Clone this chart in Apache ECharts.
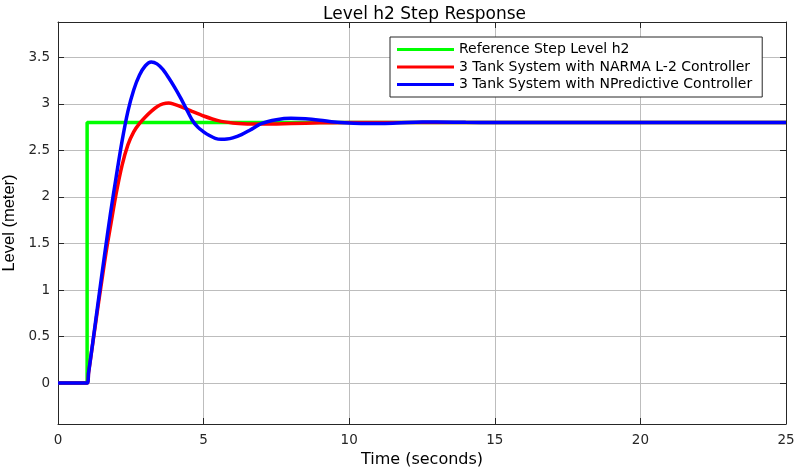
<!DOCTYPE html>
<html>
<head>
<meta charset="utf-8">
<script src="https://cdn.jsdelivr.net/npm/echarts@6/dist/echarts.min.js"></script>
<style>html,body{margin:0;padding:0;background:#fff;}#c{width:795px;height:470px;}</style>
</head>
<body>
<div id="c"></div>
<script>
const titleText = 'Level h2 Step Response';
const xName = 'Time (seconds)';
const yName = 'Level (meter)';
const seriesNames = ['Reference Step Level h2', '3 Tank System with NARMA L-2 Controller', '3 Tank System with NPredictive Controller'];
const xTicks = [0, 5, 10, 15, 20, 25];
const yTicks = [0, 0.5, 1, 1.5, 2, 2.5, 3, 3.5];

const refT = [0, 1, 1, 25];
const refV = [0, 0, 2.8, 2.8];

const narmaT = [0, 1, 1.05, 1.2, 1.4, 1.6, 1.7, 1.8, 2.0, 2.2, 2.4, 2.6, 2.8, 3.0, 3.2, 3.4, 3.6, 3.8, 4.0, 4.3, 4.6, 5.0, 5.5, 6.0, 6.5, 7.0, 7.5, 8, 9, 10, 12, 15, 20, 25];
const narmaV = [0, 0, 0.11, 0.44, 0.88, 1.3, 1.5, 1.68, 2.04, 2.34, 2.56, 2.7, 2.79, 2.86, 2.92, 2.97, 3.0, 3.01, 2.995, 2.96, 2.92, 2.87, 2.82, 2.795, 2.785, 2.783, 2.785, 2.79, 2.796, 2.8, 2.8, 2.8, 2.8, 2.8];

const npredT = [0, 1, 1.05, 1.2, 1.4, 1.6, 1.8, 2.0, 2.2, 2.4, 2.6, 2.8, 3.0, 3.2, 3.4, 3.6, 3.8, 4.0, 4.2, 4.4, 4.6, 4.8, 5.0, 5.2, 5.4, 5.6, 5.8, 6.0, 6.3, 6.6, 7.0, 7.5, 8.0, 8.5, 9.0, 9.5, 10, 10.5, 11, 11.5, 12, 12.5, 13, 14, 15, 20, 25];
const npredV = [0, 0, 0.11, 0.45, 0.92, 1.38, 1.82, 2.22, 2.6, 2.92, 3.15, 3.31, 3.41, 3.45, 3.43, 3.37, 3.28, 3.18, 3.07, 2.95, 2.83, 2.75, 2.70, 2.66, 2.63, 2.62, 2.622, 2.635, 2.67, 2.72, 2.79, 2.83, 2.845, 2.84, 2.825, 2.805, 2.795, 2.79, 2.79, 2.793, 2.8, 2.805, 2.806, 2.802, 2.8, 2.8, 2.8];

const colors = ['#00ff00', '#ff0000', '#0000ff'];
const pair = (t, v) => t.map((x, i) => [x, v[i]]);
const dark = '#262626';
const gridColor = '#bdbdbd';
const tickFont = 'DejaVu Sans';

const chart = echarts.init(document.getElementById('c'), null, {renderer: 'canvas'});
const xBase = {
  type: 'value', min: 0, max: 25, interval: 5,
  axisLine: {show: true, onZero: false, lineStyle: {color: dark, width: 1}},
  axisTick: {show: true, inside: true, length: 6, lineStyle: {color: dark}},
};
const yBase = {
  type: 'value', min: -0.44, max: 3.88,
  axisLine: {show: true, onZero: false, lineStyle: {color: dark, width: 1}},
  axisTick: {show: true, inside: true, length: 6, customValues: yTicks, lineStyle: {color: dark}},
};
chart.setOption({
  animation: false,
  backgroundColor: '#ffffff',
  title: {
    text: titleText, left: 318, top: 1,
    textStyle: {fontFamily: tickFont, fontSize: 17, fontWeight: 'normal', color: '#000'}
  },
  grid: {left: 58, right: 9, top: 22, bottom: 46, show: false, containLabel: false, outerBoundsMode: 'none'},
  legend: {
    orient: 'vertical', left: 390, top: 37,
    padding: [4, 10, 4, 7], itemGap: 0.5,
    itemWidth: 57, itemHeight: 3, icon: 'rect',
    borderColor: dark, borderWidth: 1, backgroundColor: '#fff',
    textStyle: {fontFamily: tickFont, fontSize: 14, lineHeight: 17, color: '#000'},
    data: seriesNames
  },
  xAxis: [
    Object.assign({}, xBase, {
      position: 'bottom',
      name: xName, nameLocation: 'middle', nameGap: 27,
      nameTextStyle: {fontFamily: tickFont, fontSize: 16, color: '#000'},
      axisLabel: {show: true, margin: 9, fontFamily: tickFont, fontSize: 13.5, color: dark, customValues: xTicks},
      splitLine: {show: true, lineStyle: {color: gridColor, width: 1}}
    }),
    Object.assign({}, xBase, {
      position: 'top',
      axisLabel: {show: false},
      splitLine: {show: false}
    })
  ],
  yAxis: [
    Object.assign({}, yBase, {
      position: 'left',
      name: yName, nameLocation: 'middle', nameGap: 39, nameRotate: 90,
      nameTextStyle: {fontFamily: 'Liberation Sans', fontSize: 16.5, color: '#000'},
      axisLabel: {show: true, margin: 8, fontFamily: tickFont, fontSize: 13.5, color: dark, customValues: yTicks},
      splitLine: {show: true, lineStyle: {color: gridColor, width: 1}}
    }),
    Object.assign({}, yBase, {
      position: 'right',
      axisLabel: {show: false},
      splitLine: {show: false}
    })
  ],
  series: [
    {name: seriesNames[0], type: 'line', data: pair(refT, refV), showSymbol: false, symbol: 'none',
     lineStyle: {color: colors[0], width: 3.5}, itemStyle: {color: colors[0]}, z: 3},
    {name: seriesNames[1], type: 'line', data: pair(narmaT, narmaV), showSymbol: false, symbol: 'none', smooth: 0.3,
     lineStyle: {color: colors[1], width: 3.5}, itemStyle: {color: colors[1]}, z: 4},
    {name: seriesNames[2], type: 'line', data: pair(npredT, npredV), showSymbol: false, symbol: 'none', smooth: 0.3,
     lineStyle: {color: colors[2], width: 3.5}, itemStyle: {color: colors[2]}, z: 5}
  ]
});
</script>
</body>
</html>
